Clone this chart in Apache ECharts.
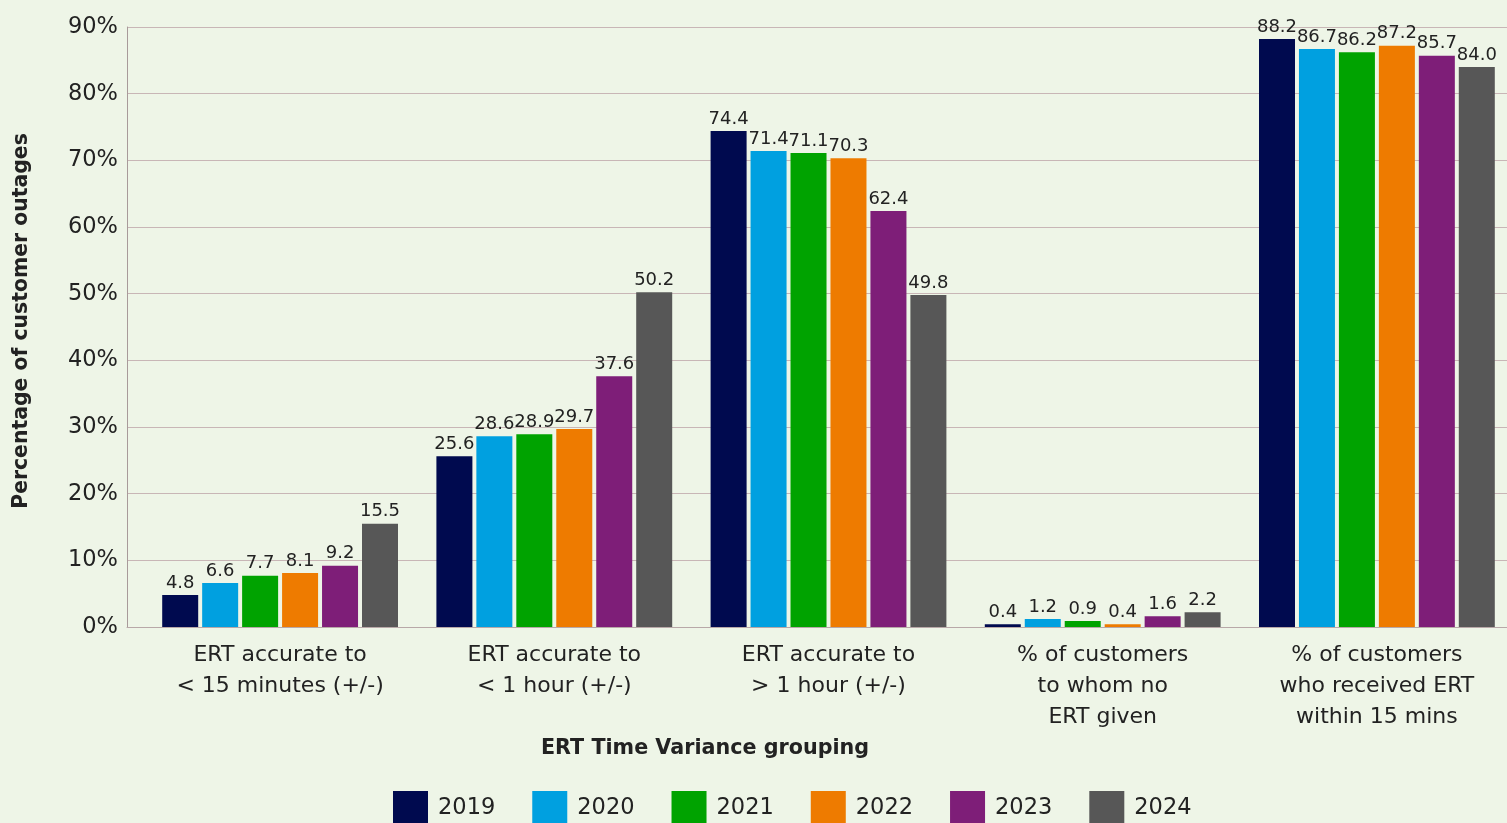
<!DOCTYPE html>
<html>
<head>
<meta charset="utf-8">
<script src="https://cdn.jsdelivr.net/npm/echarts@6/dist/echarts.min.js"></script>
<style>
html,body{margin:0;padding:0;background:#EEF5E7;overflow:hidden;}
#chart{width:1520px;height:823px;}
</style>
</head>
<body>
<div id="chart"></div>
<script>
const categories = [
  "ERT accurate to\n< 15 minutes (+/-)",
  "ERT accurate to\n< 1 hour (+/-)",
  "ERT accurate to\n> 1 hour (+/-)",
  "% of customers\nto whom no\nERT given",
  "% of customers\nwho received ERT\nwithin 15 mins"
];
const years = ["2019", "2020", "2021", "2022", "2023", "2024"];
const v2019 = [4.8, 25.6, 74.4, 0.4, 88.2];
const v2020 = [6.6, 28.6, 71.4, 1.2, 86.7];
const v2021 = [7.7, 28.9, 71.1, 0.9, 86.2];
const v2022 = [8.1, 29.7, 70.3, 0.4, 87.2];
const v2023 = [9.2, 37.6, 62.4, 1.6, 85.7];
const v2024 = [15.5, 50.2, 49.8, 2.2, 84.0];
const yTicks = { min: 0, max: 90, interval: 10 };
const yTitle = "Percentage of customer outages";
const xTitle = "ERT Time Variance grouping";

const seriesValues = [v2019, v2020, v2021, v2022, v2023, v2024];
const colors = ["#000A4F", "#00A0E0", "#00A300", "#EE7B00", "#7E1E78", "#575757"];
const FONT = "DejaVu Sans, Liberation Sans, sans-serif";

const chart = echarts.init(document.getElementById('chart'));
chart.setOption({
  backgroundColor: '#EEF5E7',
  animation: false,
  textStyle: { fontFamily: FONT, color: '#222' },
  grid: [
    { left: 127, top: 27, width: 1380, bottom: 196 },
    { left: 143, top: 27, width: 1371, bottom: 196 }
  ],
  xAxis: [
    { gridIndex: 0, type: 'category', data: [''], axisLabel: { show: false }, axisTick: { show: false },
      axisLine: { show: true, lineStyle: { color: '#b8a8a8', width: 1 } } },
    { gridIndex: 1, type: 'category', data: categories, axisTick: { show: false },
      axisLine: { show: false },
      axisLabel: { fontSize: 22, lineHeight: 31, color: '#222', margin: 13, interval: 0, fontFamily: FONT } }
  ],
  yAxis: [
    { gridIndex: 0, type: 'value', min: yTicks.min, max: yTicks.max, interval: yTicks.interval,
      axisLabel: { formatter: '{value}%', fontSize: 22.5, color: '#222', margin: 9, fontFamily: FONT },
      axisLine: { show: true, lineStyle: { color: '#a89a9a', width: 1 } },
      axisTick: { show: false },
      splitLine: { show: true, lineStyle: { color: '#c8b6b6', width: 1 } } },
    { gridIndex: 1, type: 'value', min: yTicks.min, max: yTicks.max, interval: yTicks.interval,
      axisLabel: { show: false }, axisLine: { show: false }, axisTick: { show: false }, splitLine: { show: false } }
  ],
  legend: {
    data: years,
    bottom: -8,
    left: 388,
    itemWidth: 35,
    itemHeight: 35,
    itemGap: 37,
    icon: 'rect',
    textStyle: { fontSize: 22.5, color: '#222', fontFamily: FONT, padding: [7, 0, 0, 5] }
  },
  graphic: [
    { type: 'text', x: 22, y: 321, rotation: Math.PI / 2,
      style: { text: yTitle, font: 'bold 20.4px ' + FONT, fill: '#222',
               textAlign: 'center', textVerticalAlign: 'middle' } },
    { type: 'text', x: 705, y: 749,
      style: { text: xTitle, font: 'bold 20.7px ' + FONT, fill: '#222',
               textAlign: 'center', textVerticalAlign: 'middle' } }
  ],
  series: years.map((y, i) => ({
    name: y,
    type: 'bar',
    xAxisIndex: 1,
    yAxisIndex: 1,
    data: seriesValues[i],
    barWidth: 36,
    barGap: '11%',
    itemStyle: { color: colors[i] },
    label: { show: true, position: 'top', distance: 3, fontSize: 18, color: '#222', fontFamily: FONT,
             formatter: p => p.value.toFixed(1) }
  }))
});
</script>
</body>
</html>
